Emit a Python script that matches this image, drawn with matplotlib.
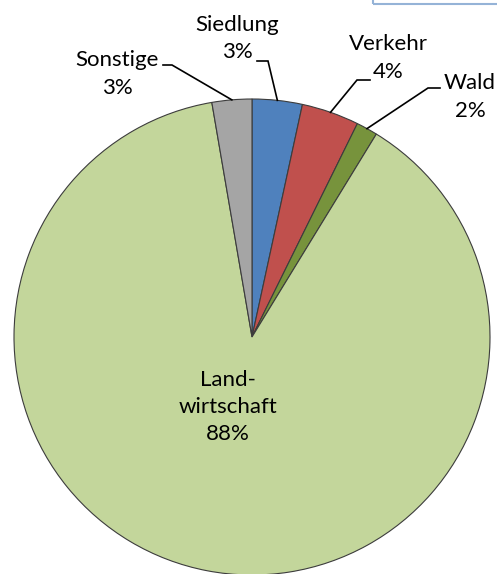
import numpy as np
import matplotlib
matplotlib.use('Agg')
import matplotlib.pyplot as plt
from matplotlib.patches import Rectangle

plt.rcParams['font.family'] = ['Lato', 'DejaVu Sans']

# Flächennutzung (Anteile in %)
categories = ['Siedlung', 'Verkehr', 'Wald', 'Land-\nwirtschaft', 'Sonstige']
values = [3.4, 3.9, 1.45, 88.55, 2.7]
pct_labels = ['3%', '4%', '2%', '88%', '3%']
colors = ['#4f81bd', '#c0504d', '#77933c', '#c3d69b', '#a5a5a5']

W, H = 497, 574
fig = plt.figure(figsize=(W / 100, H / 100), dpi=100)
ax = fig.add_axes([0, 0, 1, 1])

cx, cy, r = 252, H - 337, 238
wedges, _ = ax.pie(values, startangle=90, counterclock=False, center=(cx, cy),
                   radius=r, colors=colors,
                   wedgeprops=dict(edgecolor='#3c3c3c', linewidth=0.8))

ax.set_xlim(0, W)
ax.set_ylim(0, H)
ax.set_aspect('equal')
ax.axis('off')

# Beschriftung: Textmitte (px), Start und Knick der Führungslinie
label_pos = {
    'Siedlung': ((237, 38.5), (257, 61), (268, 61)),
    'Verkehr': ((388, 58), (370, 80), (357, 80)),
    'Wald': ((470, 97), (440, 88), (428, 88)),
    'Sonstige': ((117, 74), (163, 65), (172, 65)),
}

for w, cat, pct in zip(wedges, categories, pct_labels):
    mid = np.deg2rad((w.theta1 + w.theta2) / 2)
    if cat in label_pos:
        (tx, ty), (sx, sy), (ex, ey) = label_pos[cat]
        ax.text(tx, H - ty, cat + '\n' + pct, ha='center', va='center',
                fontsize=16, linespacing=1.45)
        rx = cx + r * np.cos(mid)
        ry = cy + r * np.sin(mid)
        ax.plot([sx, ex, rx], [H - sy, H - ey, ry], color='black', lw=1.2,
                solid_joinstyle='miter')
    else:
        ax.text(228, H - 407, cat + '\n' + pct, ha='center', va='center',
                fontsize=16, linespacing=1.45)

# Rahmen oben rechts (angeschnittenes Textfeld)
fig.patches.append(Rectangle((373 / W, (H - 4) / H), 200 / W, 40 / H,
                             transform=fig.transFigure, fill=False,
                             edgecolor='#95b3d7', linewidth=1.5))

fig.savefig('out.png', dpi=100)
